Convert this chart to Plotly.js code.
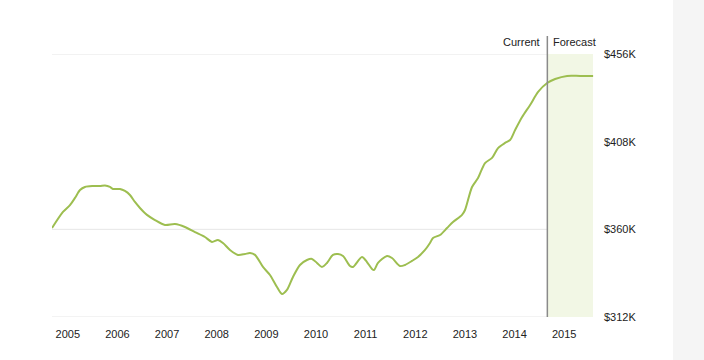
<!DOCTYPE html>
<html>
<head>
<meta charset="utf-8">
<script src="https://cdn.plot.ly/plotly-3.0.1.min.js"></script>
<style>
html,body{margin:0;padding:0;background:#fff;}
#chart{width:704px;height:360px;}
</style>
</head>
<body>
<div id="chart"></div>
<script>
// Decimal year of each observation
var dates = [2004.682,2004.903,2005.044,2005.145,2005.246,2005.346,2005.508,2005.649,2005.749,2005.850,
2005.910,2006.051,2006.151,2006.252,2006.353,2006.454,2006.595,2006.756,2006.957,2007.159,
2007.360,2007.562,2007.763,2007.904,2008.025,2008.126,2008.267,2008.428,2008.569,2008.670,
2008.771,2008.932,2009.073,2009.214,2009.314,2009.415,2009.536,2009.677,2009.818,2009.919,
2010.020,2010.120,2010.221,2010.342,2010.443,2010.544,2010.685,2010.745,2010.926,2011.027,
2011.128,2011.168,2011.249,2011.430,2011.531,2011.692,2011.793,2011.934,2012.055,2012.196,
2012.296,2012.357,2012.498,2012.639,2012.760,2012.941,2013.002,2013.143,2013.264,2013.405,
2013.546,2013.667,2013.808,2013.909,2014.011,2014.152,2014.313,2014.474,2014.656,2014.817,
2015.058,2015.320,2015.582];
// Home value index, thousands of dollars
var values = [360.7,369.5,373.3,377.2,381.5,383.2,383.7,383.7,384.0,383.2,
382.1,382.1,381.0,378.8,375.0,371.7,367.9,365.1,362.4,362.9,
361.3,358.5,355.8,353.1,354.2,352.5,348.7,346.0,346.5,347.0,
346.0,339.4,335.0,328.4,324.6,326.8,333.9,340.5,343.2,343.8,
341.6,339.4,341.6,346.0,346.5,345.4,339.9,339.4,344.9,342.1,
338.3,337.7,341.6,345.4,344.3,339.9,340.5,342.7,344.9,348.7,
352.5,355.3,356.9,360.7,364.0,367.9,370.6,383.2,388.1,396.3,
399.1,404.5,407.3,408.9,414.4,421.5,428.1,435.2,440.1,442.3,
444.0,444.0,444.0];
var xTickVals = [2005,2006,2007,2008,2009,2010,2011,2012,2013,2014,2015];
var xTickText = ['2005','2006','2007','2008','2009','2010','2011','2012','2013','2014','2015'];
var yTickVals = [312,360,408,456];
var yTickText = ['$312K','$360K','$408K','$456K'];
var gridVals = [312,360,456];
var currentDate = 2014.66;
var forecastEnd = 2015.58;
var xStart = 2004.682, xEnd = 2015.6;

var shapes = [];
gridVals.forEach(function(v){
  shapes.push({type:'line', xref:'x', yref:'y', x0:xStart, x1:currentDate, y0:v, y1:v,
    line:{color:'#e6e6e6', width:1}, layer:'below'});
});
shapes.push({type:'rect', xref:'x', yref:'y', x0:currentDate, x1:forecastEnd, y0:312, y1:456,
  fillcolor:'#f2f7e5', line:{width:0}, layer:'between'});
shapes.push({type:'line', xref:'x', yref:'paper', x0:currentDate, x1:currentDate, y0:0, y1:1.068,
  line:{color:'#8a8a8a', width:1.5}, layer:'above'});
// right gray strip
shapes.push({type:'rect', xref:'paper', yref:'paper', x0:1.1458, x1:1.25, y0:-0.3, y1:1.3,
  fillcolor:'#f5f5f5', line:{width:0}, layer:'below'});

var trace = {x:dates, y:values, type:'scatter', mode:'lines',
  line:{color:'#9dbe50', width:2, shape:'spline', smoothing:0.8}, hoverinfo:'skip'};

var layout = {
  width:704, height:360,
  margin:{l:52, r:110, t:54, b:43, pad:0},
  paper_bgcolor:'#ffffff', plot_bgcolor:'rgba(0,0,0,0)',
  showlegend:false,
  font:{family:'Liberation Sans, Arial, sans-serif', size:11, color:'#222'},
  xaxis:{range:[xStart,xEnd], tickvals:xTickVals, ticktext:xTickText, showgrid:false,
    zeroline:false, showline:false, ticks:'', ticklabelstandoff:9, fixedrange:true},
  yaxis:{range:[312,456], side:'right', tickvals:yTickVals, ticktext:yTickText, showgrid:false,
    zeroline:false, showline:false, ticks:'', ticklabelstandoff:9, fixedrange:true},
  shapes:shapes,
  annotations:[
    {xref:'x', yref:'paper', x:currentDate, y:1.045, text:'Current', showarrow:false,
      xanchor:'right', yanchor:'middle', xshift:-5, font:{size:11, color:'#222'}},
    {xref:'x', yref:'paper', x:currentDate, y:1.045, text:'Forecast', showarrow:false,
      xanchor:'left', yanchor:'middle', xshift:4, font:{size:11, color:'#222'}}
  ]
};
Plotly.newPlot('chart', [trace], layout, {staticPlot:true, displayModeBar:false});
</script>
</body>
</html>
